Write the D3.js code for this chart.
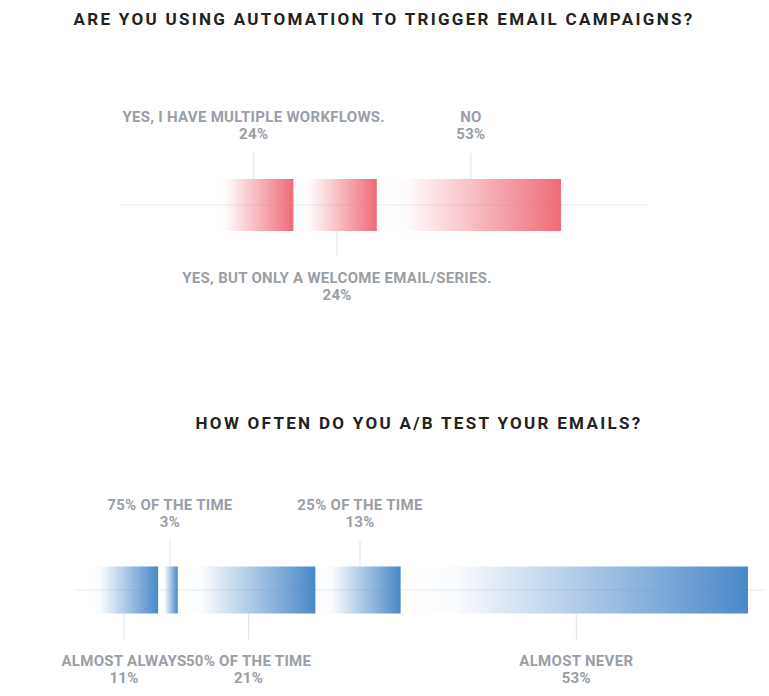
<!DOCTYPE html>
<html><head><meta charset="utf-8">
<script src="https://cdn.jsdelivr.net/npm/d3@7"></script>
<style>body{margin:0;background:#fff}text{font-family:Roboto,sans-serif}</style>
</head><body>
<svg id="c" width="769" height="696"></svg>
<script>
const autoLabels = ['YES, I HAVE MULTIPLE WORKFLOWS.', 'YES, BUT ONLY A WELCOME EMAIL/SERIES.', 'NO'];
const autoValues = [24, 24, 53];
const abLabels = ['ALMOST ALWAYS', '75% OF THE TIME', '50% OF THE TIME', '25% OF THE TIME', 'ALMOST NEVER'];
const abValues = [11, 3, 21, 13, 53];

const svg = d3.select('#c');
const defs = svg.append('defs');

function chart(cfg) {
  const total = d3.sum(cfg.values);
  const x = d3.scaleLinear().domain([0, total]).range([cfg.x0, cfg.x1]);
  const g = svg.append('g');
  const grad = defs.append('linearGradient').attr('id', cfg.id).attr('x1', 0).attr('x2', 1);
  grad.append('stop').attr('offset', '0%').attr('stop-color', cfg.color).attr('stop-opacity', 0);
  grad.append('stop').attr('offset', '15%').attr('stop-color', cfg.color).attr('stop-opacity', 0.03);
  grad.append('stop').attr('offset', '100%').attr('stop-color', cfg.color).attr('stop-opacity', 1);

  svg.append('text').attr('x', cfg.titleX).attr('y', cfg.titleY).attr('text-anchor', 'middle')
    .attr('font-size', 17).attr('font-weight', 700).attr('letter-spacing', 2.3).attr('fill', '#222')
    .text(cfg.title);

  g.append('line').attr('x1', cfg.lineX0).attr('x2', cfg.lineX1).attr('y1', cfg.y).attr('y2', cfg.y)
    .attr('stroke', '#e6ebee');

  let cum = 0;
  const bars = cfg.values.map((v, i) => {
    const b = { v, i, a: x(cum) + 2, b: x(cum + v) - 2, label: cfg.labels[i] };
    cum += v;
    return b;
  });
  const h = cfg.h;
  bars.forEach(d => {
    const cx = (d.a + d.b) / 2;
    const up = (d.i % 2 === 0) === cfg.firstUp;
    g.append('rect').attr('x', d.a).attr('y', cfg.y - h / 2).attr('width', d.b - d.a).attr('height', h)
      .attr('fill', `url(#${cfg.id})`);
    const ly0 = up ? cfg.y - h / 2 : cfg.y + h / 2;
    const ly1 = up ? ly0 - 26 : ly0 + 26;
    g.append('line').attr('x1', cx).attr('x2', cx).attr('y1', ly0).attr('y2', ly1).attr('stroke', '#dde3e8');
    const ty = up ? ly1 - 31 : ly1 + 26;
    const t = g.append('text').attr('text-anchor', 'middle').attr('fill', '#9a9ea6')
      .attr('font-size', 15).attr('font-weight', 700).attr('letter-spacing', 0.3);
    t.append('tspan').attr('x', cx).attr('y', ty).text(d.label);
    t.append('tspan').attr('x', cx).attr('y', ty + 17).text(d.v + '%');
  });
}

chart({ id: 'gr', title: 'ARE YOU USING AUTOMATION TO TRIGGER EMAIL CAMPAIGNS?', titleX: 384, titleY: 25,
  labels: autoLabels, values: autoValues, color: '#ef6b78', x0: 212, x1: 563, y: 205, h: 52,
  lineX0: 120, lineX1: 648, firstUp: true });
chart({ id: 'gb', title: 'HOW OFTEN DO YOU A/B TEST YOUR EMAILS?', titleX: 419, titleY: 429,
  labels: abLabels, values: abValues, color: '#4a88c8', x0: 88, x1: 750, y: 590, h: 47,
  lineX0: 75, lineX1: 765, firstUp: false });
</script>
</body></html>
